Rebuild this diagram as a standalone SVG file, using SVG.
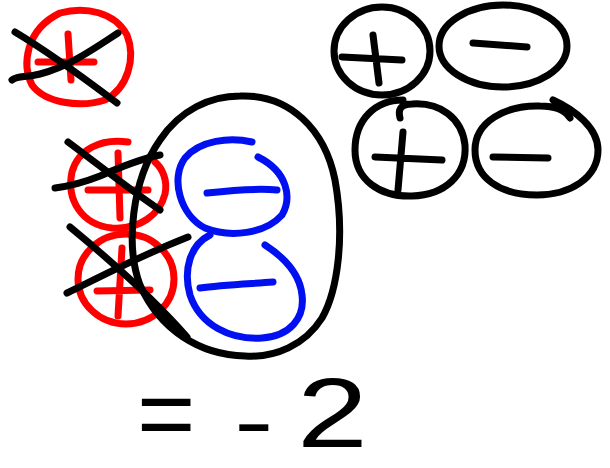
<svg xmlns="http://www.w3.org/2000/svg" width="610" height="468" viewBox="0 0 610 468">
<style>
.s{fill:none;stroke-width:7;stroke-linecap:round;stroke-linejoin:round}
.r{stroke:#ff0000}
.b{stroke:#0010f0}
.k{stroke:#000}
.t{font-family:"Liberation Sans",Arial,sans-serif;fill:#000}
</style>
<rect width="610" height="468" fill="#fff"/>
<g id="red1">
<path class="s r" d="M60,13 C85,6 115,12 127,35 C136,58 128,88 105,100 C80,108 45,103 32,85 C22,65 25,30 60,13 Z"/>
<path class="s r" d="M68,34 L71,80 M38,62 L94,62"/>
<path class="s k" d="M15,32 C45,50 80,75 117,103 M12,80 C18,75 25,78 40,74 C70,66 95,48 118,33"/>
</g>
<g id="red2">
<path class="s r" d="M128,142 C100,138 78,150 72,172 C66,200 82,225 112,228 C140,230 160,214 165,194 C168,180 162,168 155,162"/>
<path class="s r" d="M118,153 L120,218 M88,190 L148,190"/>
<path class="s k" d="M68,142 C95,162 130,190 160,210 M55,188 C70,186 85,182 100,176 C125,165 145,158 160,155"/>
</g>
<g id="red3">
<ellipse class="s r" cx="126" cy="279" rx="48" ry="45"/>
<path class="s r" d="M122,248 L118,316 M97,291 L150,290"/>
<path class="s k" d="M70,227 C110,260 150,295 187,337 M67,293 C95,280 130,260 188,237"/>
</g>
<g id="blue1">
<path class="s b" d="M252,142 C230,137 200,140 185,158 C170,178 180,215 205,228 C230,238 265,234 282,215 C292,198 288,172 258,157"/>
<path class="s b" d="M207,193 C225,191 255,188 277,190"/>
</g>
<g id="blue2">
<path class="s b" d="M210,235 C190,245 183,270 190,295 C200,325 230,340 262,338 C290,336 305,318 302,295 C300,275 285,258 265,245"/>
<path class="s b" d="M200,288 C220,285 245,284 273,282"/>
</g>
<g id="group">
<path class="s k" d="M240,96 C290,94 325,130 335,180 C345,235 338,290 322,318 C305,345 275,358 245,356 C200,355 160,330 140,285 C125,245 132,180 160,140 C180,110 210,96 240,96 Z"/>
</g>
<g id="pos1">
<ellipse class="s k" cx="382" cy="51" rx="48" ry="44"/>
<path class="s k" d="M373,35 L379,83 M342,57 L402,60"/>
</g>
<g id="neg1">
<ellipse class="s k" cx="503" cy="46" rx="64" ry="41"/>
<path class="s k" d="M473,43 L527,47"/>
</g>
<g id="pos2">
<path class="s k" d="M403,100 C375,100 355,120 355,150 C355,180 380,197 412,196 C445,195 467,175 465,145 C462,118 440,102 412,104 C400,104 398,110 400,118"/>
<path class="s k" d="M403,132 L398,190 M375,157 L442,160"/>
</g>
<g id="neg2">
<path class="s k" d="M553,100 C575,110 598,128 598,150 C598,178 570,195 537,195 C500,195 475,178 475,150 C475,122 505,105 540,106 C555,106 565,110 570,118"/>
<path class="s k" d="M493,157 L548,158"/>
</g>
<g id="result">
<text class="t" x="137" y="448" font-size="100">=</text>
<text class="t" x="234" y="450" font-size="85" transform="translate(234,0) scale(1.4,1) translate(-234,0)">-</text>
<text class="t" transform="translate(297,447) scale(1.3,1)" font-size="98">2</text>
</g>
</svg>
